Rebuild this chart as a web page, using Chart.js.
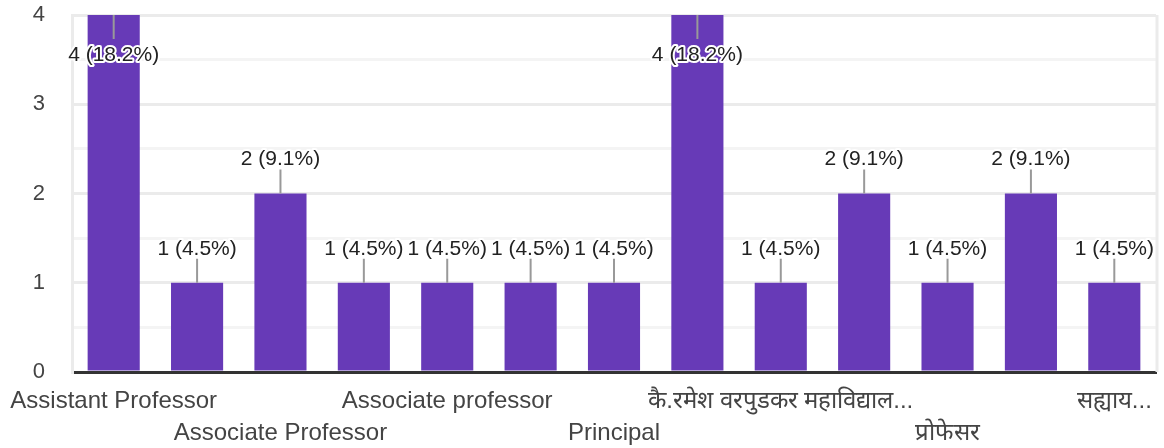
<!DOCTYPE html>
<html>
<head>
<meta charset="utf-8">
<script src="https://cdn.jsdelivr.net/npm/chart.js@4"></script>
<style>
  html, body { margin: 0; padding: 0; background: #fff; }
  #wrap { width: 1164px; height: 448px; }
</style>
</head>
<body>
<div id="wrap"><canvas id="role-bar"></canvas></div>
<script>
Chart.defaults.font.family = '"Liberation Sans", Arial, sans-serif'

// categories (odd ones are not printed on the axis in the original)
const roleLabels = ['Assistant Professor', 'Professor', 'Associate Professor', 'Assistant professor',
    'Associate professor', 'Lecturer', 'Principal', 'सहाय्यक प्राध्यापक',
    'कै.रमेश वरपुडकर महाविद्याल...', 'प्राध्यापक', 'प्रोफेसर', 'Head of Department', 'सह्याय...'];
const roleCounts = [4, 1, 2, 1, 1, 1, 1, 4, 1, 2, 1, 2, 1];
const yTicks = [0, 1, 2, 3, 4];
const total = roleCounts.reduce((a, b) => a + b, 0);

const barColor = '#673ab7';

const valueLabels = {
    id: 'valueLabels',
    afterDatasetsDraw(chart) {
        const ctx = chart.ctx;
        const area = chart.chartArea;
        const meta = chart.getDatasetMeta(0);
        ctx.save();
        ctx.font = '21px "Liberation Sans", Arial, sans-serif';
        ctx.textAlign = 'center';
        ctx.textBaseline = 'middle';
        meta.data.forEach(function (bar, i) {
            const v = roleCounts[i];
            const txt = v + ' (' + (v / total * 100).toFixed(1) + '%)';
            let lineEnd, textY;
            if (bar.y - 40 < area.top) {
                lineEnd = bar.y + 24;
                textY = bar.y + 40;
            } else {
                lineEnd = bar.y - 24;
                textY = bar.y - 34;
            }
            ctx.strokeStyle = '#999';
            ctx.lineWidth = 2;
            ctx.beginPath();
            ctx.moveTo(bar.x, bar.y);
            ctx.lineTo(bar.x, lineEnd);
            ctx.stroke();
            ctx.lineJoin = 'round';
            ctx.strokeStyle = '#fff';
            ctx.lineWidth = 4;
            ctx.strokeText(txt, bar.x, textY);
            ctx.fillStyle = '#222';
            ctx.fillText(txt, bar.x, textY);
        });
        ctx.restore();
    }
};

const rightEdge = {
    id: 'rightEdge',
    beforeDatasetsDraw(chart) {
        const a = chart.chartArea;
        const ctx = chart.ctx;
        ctx.save();
        ctx.strokeStyle = '#ebebeb';
        ctx.lineWidth = 3;
        ctx.beginPath();
        ctx.moveTo(a.right + 1, a.top);
        ctx.lineTo(a.right + 1, a.bottom);
        ctx.stroke();
        ctx.restore();
    }
};

const data = {
    labels: roleLabels,
    datasets: [{
        data: roleCounts,
        backgroundColor: barColor,
        borderWidth: 0,
        barPercentage: 0.625,
        categoryPercentage: 1
    }]
};

const options = {
    animation: false,
    responsive: true,
    maintainAspectRatio: false,
    layout: { padding: { top: 15, right: 8, left: 0, bottom: 0 } },
    scales: {
        x: {
            grid: { display: false },
            border: { color: '#333', width: 3 },
            ticks: {
                autoSkip: false,
                maxRotation: 0,
                minRotation: 0,
                color: '#444',
                font: { size: 24, lineHeight: 1.35 },
                padding: 5,
                callback: function (value, index) {
                    if (index % 2 === 1) return '';
                    return index % 4 === 0 ? [roleLabels[index], ''] : ['', roleLabels[index]];
                }
            },
            afterFit: function (scale) {
                scale.height = 76;
                scale.paddingLeft = 0;
                scale.paddingRight = 0;
            }
        },
        y: {
            min: 0,
            max: 4,
            grid: {
                color: function (c) { return c.tick && Number.isInteger(c.tick.value) ? '#ebebeb' : '#f4f4f4'; },
                lineWidth: 3,
                drawTicks: false
            },
            border: { color: '#ebebeb', width: 3 },
            ticks: {
                stepSize: 0.5,
                color: '#444',
                font: { size: 22 },
                padding: 27,
                callback: function (value) {
                    return yTicks.includes(value) ? value : '';
                }
            },
            afterFit: function (scale) {
                scale.width = 72;
                scale.paddingTop = 0;
                scale.paddingBottom = 0;
            }
        }
    },
    plugins: {
        legend: { display: false },
        tooltip: { enabled: false }
    }
};

new Chart(document.getElementById('role-bar'), {
    type: 'bar',
    data: data,
    options: options,
    plugins: [valueLabels, rightEdge]
});
</script>
</body>
</html>
